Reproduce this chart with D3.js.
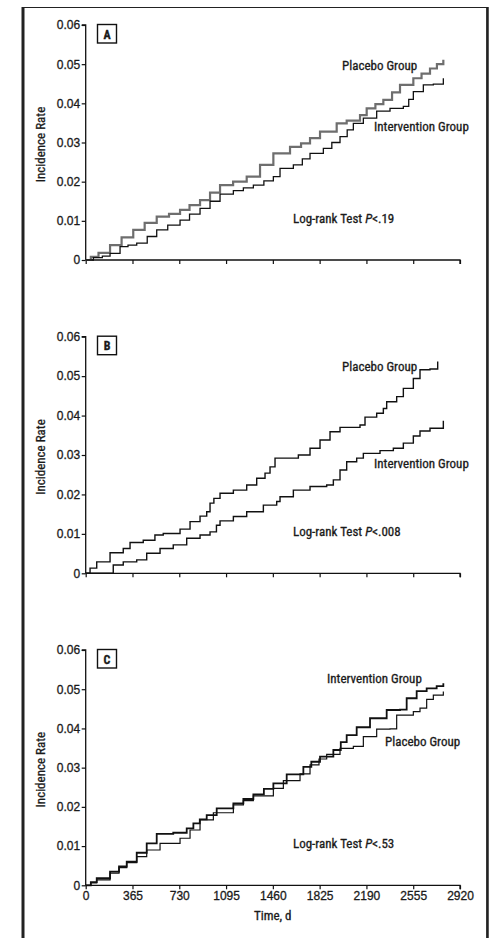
<!DOCTYPE html>
<html>
<head>
<meta charset="utf-8">
<script src="https://cdn.jsdelivr.net/npm/d3@7"></script>
<style>
  html, body { margin: 0; padding: 0; background: #fff; }
  svg { display: block; }
  text { font-family: "Liberation Sans Narrow", "Arial Narrow", "Roboto Condensed", sans-serif; fill: #1a1a1a; stroke: #1a1a1a; stroke-width: 0.3px; }
</style>
</head>
<body>
<svg id="chart" width="489" height="938"></svg>
<script>
// Cumulative incidence, [day, rate] at each step change
const panelAPlacebo = [[0,0],[40,0.0008],[100,0.0018],[190,0.0038],[280,0.0058],[371,0.0077],[460,0.0095],[554,0.0111],[650,0.0118],[736,0.0128],[810,0.0140],[892,0.0153],[970,0.0172],[1048,0.0191],[1150,0.0200],[1256,0.0213],[1360,0.0243],[1464,0.0272],[1594,0.0289],[1680,0.0298],[1750,0.0311],[1828,0.0328],[1958,0.0349],[2036,0.0356],[2140,0.0370],[2192,0.0387],[2260,0.0398],[2322,0.0409],[2390,0.0428],[2452,0.0447],[2556,0.0464],[2620,0.0476],[2686,0.0489],[2740,0.0500],[2790,0.0511]];
const panelAIntervention = [[0,0],[60,0.0006],[130,0.0010],[190,0.0017],[268,0.0034],[330,0.0038],[398,0.0043],[480,0.0060],[554,0.0077],[640,0.0089],[736,0.0102],[810,0.0117],[892,0.0132],[970,0.0150],[1048,0.0168],[1152,0.0177],[1230,0.0184],[1308,0.0191],[1390,0.0202],[1464,0.0213],[1516,0.0234],[1620,0.0243],[1690,0.0258],[1750,0.0272],[1854,0.0285],[1920,0.0300],[1984,0.0315],[2040,0.0332],[2088,0.0349],[2166,0.0362],[2270,0.0380],[2374,0.0387],[2478,0.0392],[2520,0.0410],[2556,0.0430],[2634,0.0447],[2712,0.0449],[2790,0.0464]];

const panelBPlacebo = [[0,0],[34,0.0013],[86,0.0029],[190,0.0052],[293,0.0063],[346,0.0078],[449,0.0084],[540,0.0097],[605,0.0101],[736,0.0112],[814,0.0131],[892,0.0145],[944,0.0156],[970,0.0178],[1000,0.0190],[1048,0.0203],[1152,0.0211],[1256,0.0224],[1334,0.0241],[1399,0.0254],[1438,0.0270],[1477,0.0292],[1659,0.0300],[1750,0.0317],[1828,0.0338],[1906,0.0359],[1984,0.0370],[2140,0.0376],[2179,0.0396],[2270,0.0406],[2322,0.0418],[2348,0.0435],[2426,0.0448],[2478,0.0469],[2556,0.0494],[2608,0.0516],[2686,0.0518],[2746,0.0537]];
const panelBIntervention = [[0,0],[169,0],[215,0.0021],[293,0.0029],[398,0.0034],[476,0.0051],[580,0.0063],[683,0.0072],[788,0.0089],[892,0.0097],[970,0.0105],[1020,0.0122],[1048,0.0133],[1152,0.0144],[1256,0.0156],[1386,0.0173],[1490,0.0182],[1516,0.0194],[1620,0.0211],[1750,0.0220],[1880,0.0224],[1932,0.0237],[1984,0.0262],[2036,0.0283],[2114,0.0292],[2166,0.0304],[2296,0.0311],[2400,0.0317],[2478,0.0330],[2556,0.0348],[2608,0.0361],[2686,0.0368],[2790,0.0387]];

const panelCIntervention = [[0,0],[40,0.0008],[86,0.0018],[190,0.0035],[260,0.0048],[320,0.0060],[398,0.0083],[476,0.0107],[554,0.0131],[683,0.0134],[788,0.0145],[840,0.0158],[890,0.0168],[944,0.0179],[1022,0.0196],[1152,0.0209],[1230,0.0220],[1308,0.0232],[1390,0.0246],[1464,0.0260],[1568,0.0283],[1698,0.0302],[1760,0.0315],[1828,0.0328],[1932,0.0345],[1990,0.0365],[2036,0.0383],[2114,0.0403],[2218,0.0426],[2348,0.0447],[2452,0.0448],[2504,0.0477],[2582,0.0495],[2660,0.0502],[2738,0.0508],[2790,0.0515]];
const panelCPlacebo = [[0,0],[40,0.0006],[86,0.0014],[190,0.0031],[260,0.0045],[320,0.0058],[398,0.0073],[476,0.0090],[580,0.0107],[736,0.0120],[814,0.0141],[892,0.0167],[996,0.0185],[1152,0.0205],[1230,0.0216],[1308,0.0228],[1464,0.0247],[1542,0.0267],[1672,0.0284],[1750,0.0307],[1820,0.0322],[1880,0.0334],[1984,0.0349],[2088,0.0354],[2166,0.0379],[2270,0.0398],[2374,0.0399],[2426,0.0434],[2556,0.0443],[2608,0.0452],[2660,0.0474],[2712,0.0485],[2790,0.0494]];

const yTicks = [0, 0.01, 0.02, 0.03, 0.04, 0.05, 0.06];
const xTicks = [0, 365, 730, 1095, 1460, 1825, 2190, 2555, 2920];

const panels = [
  { letter: "A", top: 25, bottom: 260, pValue: ".19", showX: false,
    series: [
      { data: panelAPlacebo, color: "#6e6e6e", width: 2.2 },
      { data: panelAIntervention, color: "#111", width: 1.3 }
    ],
    labels: [
      { text: "Placebo Group", x: 342, y: 70 },
      { text: "Intervention Group", x: 374, y: 131 }
    ],
    pPos: { x: 293, y: 223 } },
  { letter: "B", top: 336.7, bottom: 573.3, pValue: ".008", showX: false,
    series: [
      { data: panelBPlacebo, color: "#111", width: 1.4 },
      { data: panelBIntervention, color: "#111", width: 1.4 }
    ],
    labels: [
      { text: "Placebo Group", x: 342, y: 371 },
      { text: "Intervention Group", x: 374, y: 468 }
    ],
    pPos: { x: 293, y: 536 } },
  { letter: "C", top: 650, bottom: 885.3, pValue: ".53", showX: true,
    series: [
      { data: panelCPlacebo, color: "#111", width: 1.2 },
      { data: panelCIntervention, color: "#111", width: 1.8 }
    ],
    labels: [
      { text: "Intervention Group", x: 327, y: 683 },
      { text: "Placebo Group", x: 385, y: 746 }
    ],
    pPos: { x: 293, y: 848 } }
];

const svg = d3.select("#chart");

// outer frame (open at the bottom edge of the page)
svg.append("path")
  .attr("d", "M23,945 L23,7.5 L487,7.5 L487,945")
  .attr("fill", "none").attr("stroke", "#222").attr("stroke-width", 1.2);
svg.append("line").attr("x1", 23).attr("x2", 23).attr("y1", 7).attr("y2", 945)
  .attr("stroke", "#222").attr("stroke-width", 3);
svg.append("line").attr("x1", 487.5).attr("x2", 487.5).attr("y1", 7).attr("y2", 945)
  .attr("stroke", "#222").attr("stroke-width", 2.5);

const x = d3.scaleLinear().domain([0, 2920]).range([85.7, 460]);

panels.forEach(p => {
  const y = d3.scaleLinear().domain([0, 0.06]).range([p.bottom, p.top]);
  const g = svg.append("g");

  // y axis
  const yAxis = d3.axisLeft(y).tickValues(yTicks).tickSize(4).tickPadding(1.5)
    .tickFormat(d => d === 0 ? "0" : d3.format(".2f")(d));
  const gy = g.append("g").attr("transform", `translate(${x(0)},0)`).call(yAxis);
  gy.select(".domain").attr("stroke", "#111").attr("stroke-width", 1.3)
    .attr("d", `M-4,${y(0.06)}H0V${y(0)}`);
  gy.selectAll(".tick line").attr("stroke", "#111").attr("stroke-width", 1.2);
  gy.selectAll(".tick text").attr("font-size", 12).attr("fill", "#1a1a1a")
    .style("font-family", "'Liberation Sans Narrow', 'Arial Narrow', sans-serif");

  // x axis
  const xAxis = d3.axisBottom(x).tickValues(xTicks).tickSize(4).tickPadding(2)
    .tickFormat(p.showX ? d3.format("d") : () => "");
  const gx = g.append("g").attr("transform", `translate(0,${y(0)})`).call(xAxis);
  gx.select(".domain").attr("stroke", "#111").attr("stroke-width", 1.3)
    .attr("d", `M${x(0)},0H${x(2920)}V4`);
  gx.selectAll(".tick line").attr("stroke", "#111").attr("stroke-width", 1.2);
  gx.selectAll(".tick text").attr("font-size", 12).attr("fill", "#1a1a1a")
    .style("font-family", "'Liberation Sans Narrow', 'Arial Narrow', sans-serif");

  // y axis title
  g.append("text")
    .attr("transform", `translate(45,${(y(0) + y(0.06)) / 2 + 2}) rotate(-90)`)
    .attr("text-anchor", "middle").attr("font-size", 13)
    .text("Incidence Rate");

  // panel letter box
  g.append("rect").attr("x", 97.5).attr("y", p.top - 0.5).attr("width", 19).attr("height", 18.5)
    .attr("fill", "#fff").attr("stroke", "#111").attr("stroke-width", 1.4);
  g.append("text").attr("x", 107).attr("y", p.top + 13.5).attr("text-anchor", "middle")
    .attr("font-size", 12).attr("font-weight", "bold").text(p.letter);

  // step curves
  const line = d3.line().x(d => x(d[0])).y(d => y(d[1])).curve(d3.curveStepAfter);
  p.series.forEach(s => {
    g.append("path").datum(s.data)
      .attr("d", line)
      .attr("fill", "none")
      .attr("stroke", s.color)
      .attr("stroke-width", s.width)
      .attr("stroke-linejoin", "miter");
  });

  // group labels
  p.labels.forEach(l => {
    g.append("text").attr("x", l.x).attr("y", l.y).attr("font-size", 13).text(l.text);
  });

  // log-rank annotation
  const t = g.append("text").attr("x", p.pPos.x).attr("y", p.pPos.y).attr("font-size", 13);
  t.append("tspan").text("Log-rank Test ");
  t.append("tspan").attr("font-style", "italic").text("P");
  t.append("tspan").text("<" + p.pValue);
});

// x axis title under the last panel
svg.append("text").attr("x", 272.7).attr("y", 919.5).attr("text-anchor", "middle")
  .attr("font-size", 13).text("Time, d");
</script>
</body>
</html>
